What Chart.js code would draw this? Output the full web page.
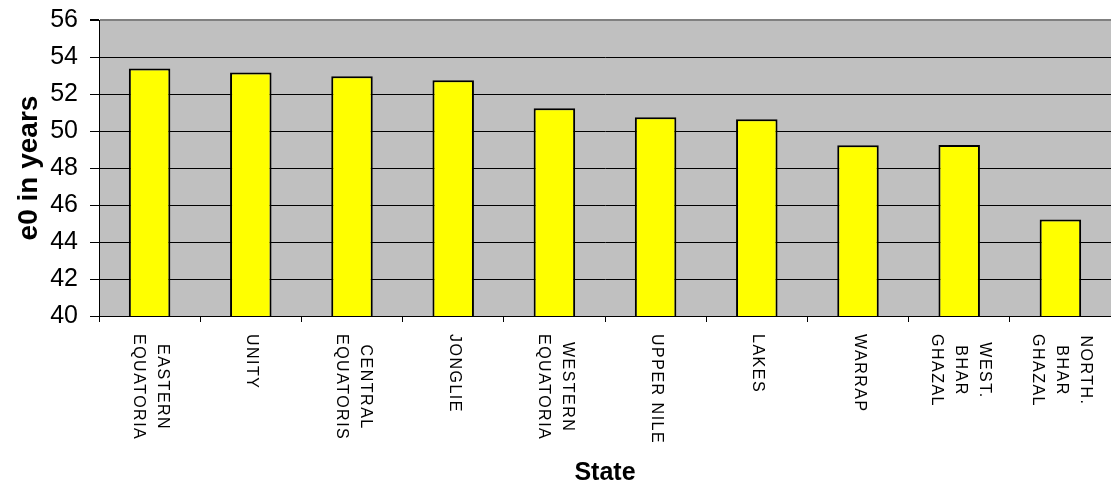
<!DOCTYPE html>
<html>
<head>
<meta charset="utf-8">
<script src="https://cdn.jsdelivr.net/npm/chart.js@4"></script>
<style>
  body { margin: 0; background: #fff; }
  canvas { display: block; }
</style>
</head>
<body>
<canvas id="grafico" width="1111" height="492"></canvas>
<script>
// data
const states = [
  ["EASTERN", "EQUATORIA"],
  ["UNITY"],
  ["CENTRAL", "EQUATORIS"],
  ["JONGLIE"],
  ["WESTERN", "EQUATORIA"],
  ["UPPER NILE"],
  ["LAKES"],
  ["WARRAP"],
  ["WEST.", "BHAR", "GHAZAL"],
  ["NORTH.", "BHAR", "GHAZAL"],
];
const e0 = [53.38, 53.16, 52.96, 52.74, 51.23, 50.74, 50.63, 49.23, 49.24, 45.21];
const yMin = 40;
const yMax = 56;
const yStep = 2;

const FONT = '"Liberation Sans", Arial, sans-serif';

// grey plot background
const plotBg = {
  id: "plotBg",
  beforeDraw(chart) {
    const { ctx, chartArea: a } = chart;
    ctx.save();
    ctx.fillStyle = "#C0C0C0";
    ctx.fillRect(a.left, a.top, a.right - a.left, a.bottom - a.top);
    ctx.restore();
  },
};

// category labels turned clockwise, like the original
const stateLabels = {
  id: "stateLabels",
  afterDraw(chart) {
    const { ctx } = chart;
    const x = chart.scales.x;
    ctx.save();
    ctx.font = "16px " + FONT;
    ctx.letterSpacing = "1.5px";
    ctx.fillStyle = "#000";
    ctx.textAlign = "center";
    ctx.textBaseline = "middle";
    states.forEach((lines, i) => {
      const px = x.getPixelForValue(i);
      const maxW = Math.max(...lines.map((l) => ctx.measureText(l).width));
      ctx.save();
      ctx.translate(px + 1, x.top + 18);
      ctx.rotate(Math.PI / 2);
      lines.forEach((line, j) => {
        const off = ((lines.length - 1) / 2 - j) * 24;
        ctx.fillText(line, maxW / 2, -off);
      });
      ctx.restore();
    });
    ctx.restore();
  },
};

const chart = new Chart(document.getElementById("grafico").getContext("2d"), {
  type: "bar",
  data: {
    labels: states,
    datasets: [
      {
        label: "e0",
        data: e0,
        backgroundColor: "#FFFF00",
        borderColor: "#000",
        borderWidth: 2,
        barPercentage: 0.41,
        categoryPercentage: 1,
      },
    ],
  },
  options: {
    responsive: false,
    animation: false,
    layout: { padding: { top: 20, right: 0, bottom: 0, left: 0 } },
    plugins: {
      legend: { display: false },
      tooltip: { enabled: false },
    },
    scales: {
      x: {
        grid: {
          offset: true,
          drawOnChartArea: false,
          drawTicks: true,
          tickLength: 6,
          tickColor: "#000",
        },
        border: { color: "#000", width: 1 },
        ticks: { display: false },
        title: {
          display: true,
          text: "State",
          color: "#000",
          font: { family: FONT, size: 25, weight: "bold" },
          padding: { top: 0, bottom: 4 },
        },
        afterFit(scale) {
          scale.height = 176;
        },
      },
      y: {
        min: yMin,
        max: yMax,
        ticks: {
          stepSize: yStep,
          color: "#000",
          padding: 12,
          font: { family: FONT, size: 25 },
        },
        grid: {
          color: (c) => (c.tick && c.tick.value === yMax ? "#808080" : "#000"),
          lineWidth: (c) => (c.tick && c.tick.value === yMax ? 2 : 1),
          tickLength: 9,
          tickColor: "#000",
        },
        border: { color: "#000", width: 1 },
        title: {
          display: true,
          text: "e0 in years",
          color: "#000",
          font: { family: FONT, size: 28, weight: "bold" },
          padding: { top: 12, bottom: 0 },
        },
        afterFit(scale) {
          scale.width = 99;
          scale.paddingTop = 0;
          scale.paddingBottom = 0;
        },
      },
    },
  },
  plugins: [plotBg, stateLabels],
});
</script>
</body>
</html>
